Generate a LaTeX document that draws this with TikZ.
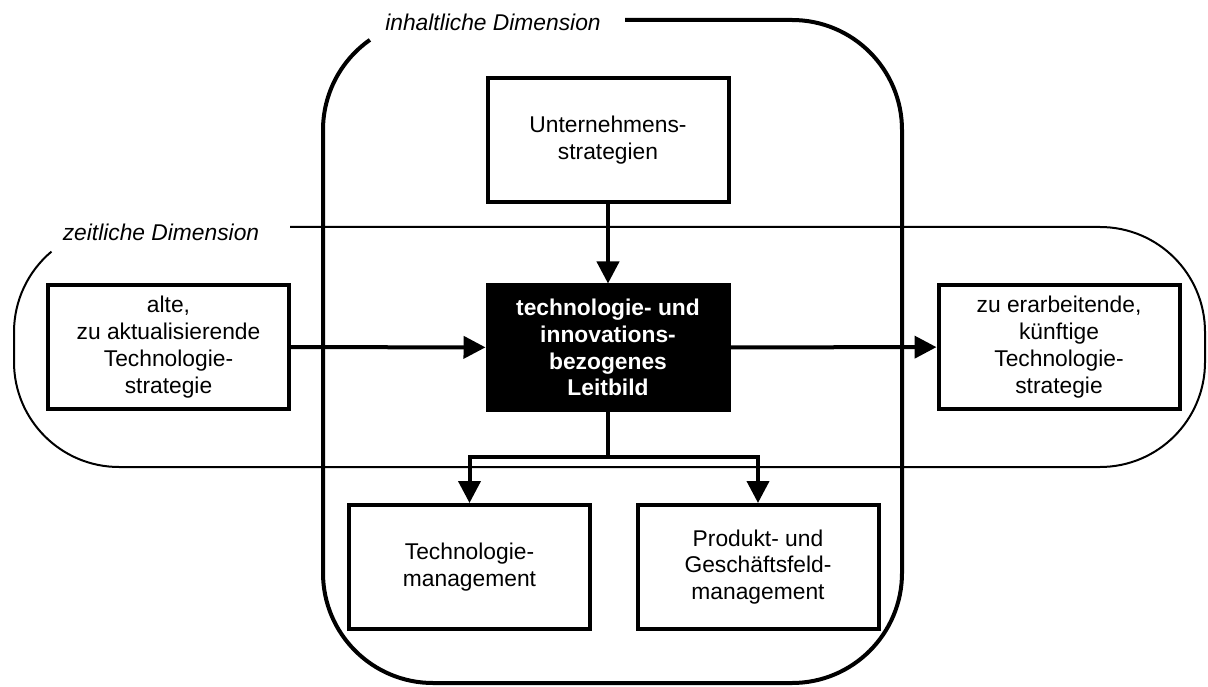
\documentclass[tikz,border=0pt]{standalone}
\usepackage{fontspec}
\setmainfont{Liberation Sans}
\usepackage{tikz}
\usetikzlibrary{positioning, arrows.meta, calc}

\newcommand{\blockfont}{\fontsize{11.4}{13.4}\selectfont}

\tikzset{
    block/.style={draw, line width=2pt, align=center, inner sep=0pt,
        minimum width=120.5pt, minimum height=62pt, font=\blockfont},
    leitblock/.style={block, fill=black, text=white, font=\blockfont\bfseries},
    dimlabel/.style={font=\blockfont\itshape, inner sep=0pt},
    flow/.style={line width=2pt, -{Triangle[length=11pt, width=11pt]}},
    dimthick/.style={line width=2pt},
    dimthin/.style={line width=1pt}
}

\begin{document}
\begin{tikzpicture}[x=0.5pt, y=0.5pt]
    \useasboundingbox (0,0) rectangle (1208,686);

    \draw[dimthick] (625,666) -- (792,666) arc[start angle=90, end angle=0, radius=110]
        -- (902,113) arc[start angle=0, end angle=-90, radius=110]
        -- (433,3) arc[start angle=-90, end angle=-180, radius=110]
        -- (323,556) arc[start angle=180, end angle=125, radius=110];
    \draw[dimthin] (290,459) -- (1100,459) arc[start angle=90, end angle=0, radius=105]
        -- (1205,324) arc[start angle=0, end angle=-90, radius=105]
        -- (119,219) arc[start angle=-90, end angle=-180, radius=105]
        -- (14,354) arc[start angle=180, end angle=130, radius=105];

    \node[dimlabel] (inhalt) at (493,664) {inhaltliche Dimension};
    \node[dimlabel] (zeit) at (161,454) {zeitliche Dimension};

    \node[block] (unt) at (608,546) {Unternehmens-\\strategien};
    \node[leitblock] (leit) at (608,338.5) {technologie- und\\innovations-\\bezogenes\\Leitbild};
    \node[block] (alte) at (168.5,339) {alte,\\zu aktualisierende\\Technologie-\\strategie};
    \node[block] (kuenftig) at (1059,339) {zu erarbeitende,\\künftige\\Technologie-\\strategie};
    \node[block] (techm) at (469.5,119) {Technologie-\\management};
    \node[block] (prodm) at (758,119) {Produkt- und\\Geschäftsfeld-\\management};
    \coordinate (split) at (608,229);

    \draw[flow] (unt) -- (leit);
    \draw[flow] (alte) -- (leit);
    \draw[flow] (leit) -- (kuenftig);
    \draw[flow] (leit) -- (split) -| (techm);
    \draw[flow] (leit) -- (split) -| (prodm);
\end{tikzpicture}
\end{document}
